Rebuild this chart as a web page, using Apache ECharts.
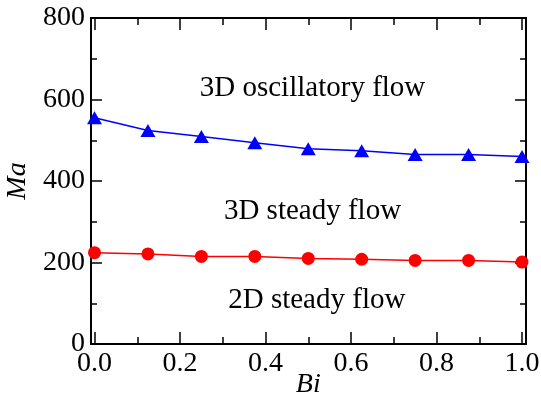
<!DOCTYPE html>
<html>
<head>
<meta charset="utf-8">
<style>
  html, body { margin: 0; padding: 0; background: #fff; }
  #chart { width: 541px; height: 399px; }
</style>
<script src="https://cdn.jsdelivr.net/npm/echarts@6/dist/echarts.min.js"></script>
</head>
<body>
<div id="chart"></div>
<script>
// Biot number values along the horizontal axis
const biValues = [0, 0.125, 0.25, 0.375, 0.5, 0.625, 0.75, 0.875, 1.0];
// Critical Marangoni number: 3D steady -> 3D oscillatory transition
const maOscillatory = [555, 524, 509, 494, 479, 474, 465, 465, 460];
// Critical Marangoni number: 2D steady -> 3D steady transition
const maSteady3D = [224, 221, 215, 215, 210, 208, 205, 205, 201];
// Flow regime labels placed in data coordinates [Bi, Ma, text]
const regionLabels = [
  [0.51, 628, '3D oscillatory flow'],
  [0.51, 326, '3D steady flow'],
  [0.52, 106, '2D steady flow']
];

const FONT = '"Liberation Serif", "Times New Roman", serif';
const chart = echarts.init(document.getElementById('chart'), null, { renderer: 'canvas' });

// outer frame (slightly wider than the data range) and the data area
const frame = { left: 91, right: 15, top: 18, bottom: 55 };
const plot = { left: 94.5, right: 19, top: 18, bottom: 55 };

const tickStyle = { color: '#000', width: 1.5 };

chart.setOption({
  animation: false,
  backgroundColor: '#fff',
  grid: [
    Object.assign({ show: true, borderColor: '#000', borderWidth: 2, backgroundColor: 'transparent',
      containLabel: false, outerBoundsMode: 'none' }, frame),
    Object.assign({ containLabel: false, outerBoundsMode: 'none' }, plot)
  ],
  xAxis: [
    { gridIndex: 0, type: 'value', min: 0, max: 1, show: false },
    {
      gridIndex: 1, type: 'value', position: 'bottom', min: 0, max: 1, interval: 0.2,
      axisLine: { show: false },
      axisTick: { show: true, inside: true, length: 12, lineStyle: tickStyle },
      minorTick: { show: true, splitNumber: 2, length: 7, lineStyle: tickStyle },
      splitLine: { show: false },
      axisLabel: { color: '#000', fontFamily: FONT, fontSize: 28, margin: 6, formatter: v => v.toFixed(1) },
      name: 'Bi', nameLocation: 'middle', nameGap: 27, nameMoveOverlap: false,
      nameTextStyle: { color: '#000', fontFamily: FONT, fontSize: 28, fontStyle: 'italic' }
    },
    {
      gridIndex: 1, type: 'value', position: 'top', min: 0, max: 1, interval: 0.2,
      axisLine: { show: false },
      axisTick: { show: true, inside: true, length: 12, lineStyle: tickStyle },
      minorTick: { show: true, splitNumber: 2, length: 7, lineStyle: tickStyle },
      splitLine: { show: false },
      axisLabel: { show: false }
    }
  ],
  yAxis: [
    {
      gridIndex: 0, type: 'value', position: 'left', min: 0, max: 800, interval: 200,
      axisLine: { show: false },
      axisTick: { show: true, inside: true, length: 11, lineStyle: tickStyle },
      minorTick: { show: true, splitNumber: 2, length: 6, lineStyle: tickStyle },
      splitLine: { show: false },
      axisLabel: { color: '#000', fontFamily: FONT, fontSize: 28, margin: 6 },
      name: 'Ma', nameLocation: 'middle', nameGap: 58,
      nameTextStyle: { color: '#000', fontFamily: FONT, fontSize: 28, fontStyle: 'italic' }
    },
    {
      gridIndex: 0, type: 'value', position: 'right', min: 0, max: 800, interval: 200,
      axisLine: { show: false },
      axisTick: { show: true, inside: true, length: 11, lineStyle: tickStyle },
      minorTick: { show: true, splitNumber: 2, length: 6, lineStyle: tickStyle },
      splitLine: { show: false },
      axisLabel: { show: false }
    },
    { gridIndex: 1, type: 'value', min: 0, max: 800, show: false }
  ],
  series: [
    {
      name: 'oscillatory', type: 'line', xAxisIndex: 1, yAxisIndex: 2,
      data: biValues.map((b, i) => [b, maOscillatory[i]]),
      symbol: 'triangle', symbolSize: [15, 13],
      itemStyle: { color: '#0000ff' },
      lineStyle: { color: '#0000ff', width: 1.5 },
      z: 3
    },
    {
      name: 'steady3d', type: 'line', xAxisIndex: 1, yAxisIndex: 2,
      data: biValues.map((b, i) => [b, maSteady3D[i]]),
      symbol: 'circle', symbolSize: 13,
      itemStyle: { color: '#ff0000' },
      lineStyle: { color: '#ff0000', width: 1.5 },
      z: 3
    },
    {
      name: 'regions', type: 'scatter', xAxisIndex: 1, yAxisIndex: 2,
      data: regionLabels,
      symbolSize: 0, silent: true,
      itemStyle: { opacity: 1, color: '#000' },
      label: {
        show: true, position: 'inside', color: '#000', opacity: 1,
        textBorderWidth: 0,
        fontFamily: FONT, fontSize: 29,
        formatter: p => p.data[2]
      }
    }
  ]
});
</script>
</body>
</html>
